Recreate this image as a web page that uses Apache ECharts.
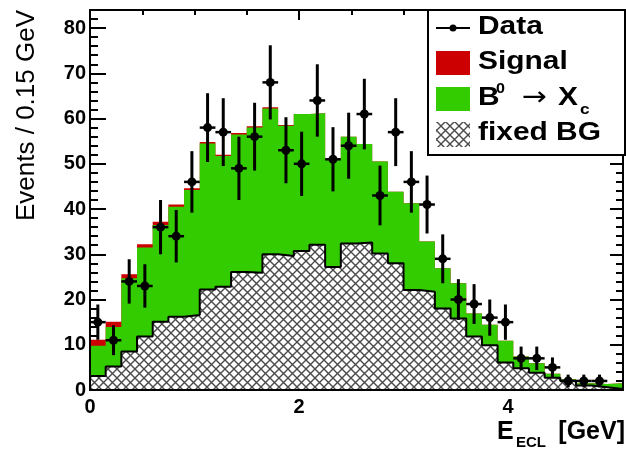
<!DOCTYPE html>
<html>
<head>
<meta charset="utf-8">
<script src="https://cdn.jsdelivr.net/npm/echarts@6/dist/echarts.min.js"></script>
<style>
  html, body { margin: 0; padding: 0; background: #fff; }
  #chart { width: 626px; height: 452px; }
</style>
</head>
<body>
<div id="chart"></div>
<script>
// ---- Data ----
const binWidth = 0.15; // GeV
const bgValues = [3.1, 5.2, 8.5, 11.8, 15.1, 16.2, 16.6, 22.2, 22.8, 26.1, 25.9, 30.0, 29.6, 30.7, 32.1, 27.2, 32.4, 32.6, 30.2, 28.0, 22.1, 21.7, 18.0, 15.8, 11.8, 9.9, 6.1, 4.8, 3.8, 2.7, 2.0, 1.0, 0.6, 0.2];
const xcValues = [6.7, 8.7, 16.2, 19.7, 21.4, 24.3, 27.6, 32.3, 28.9, 30.4, 32.1, 32.2, 28.8, 30.3, 29.1, 23.8, 23.6, 21.8, 20.3, 15.8, 19.2, 11.1, 8.9, 7.8, 5.1, 4.5, 4.8, 2.6, 2.1, 0.9, 0.4, 0.5, 0.7, 1.3];
const sigValues = [1.3, 1.2, 0.9, 0.7, 0.7, 0.5, 0.4, 0.3, 0.3, 0.3, 0.3, 0.3, 0.2, 0, 0, 0, 0, 0, 0, 0, 0, 0, 0, 0, 0, 0, 0, 0, 0, 0, 0, 0, 0, 0];
const dataValues = [15, 11, 24, 23, 36, 34, 46, 58, 57, 49, 56, 68, 53, 50, 64, 51, 54, 61, 43, 57, 46, 41, 29, 20, 19, 16, 15, 7, 7, 5, 2, 2, 2];
const dataErrors = [3.9, 3.3, 4.9, 4.8, 6.0, 5.8, 6.8, 7.6, 7.5, 7.0, 7.5, 8.2, 7.3, 7.1, 8.0, 7.1, 7.3, 7.8, 6.6, 7.5, 6.8, 6.4, 5.4, 4.5, 4.4, 4.0, 3.9, 2.6, 2.6, 2.2, 1.4, 1.4, 1.4];
const xLabeled = [0, 2, 4];
const yLabelStep = 10;

// ---- Derived ----
const nBins = bgValues.length;
const xMax = nBins * binWidth;
const bgTop = bgValues.slice();
const xcTop = bgValues.map((v, i) => v + xcValues[i]);
const sigTop = xcTop.map((v, i) => v + sigValues[i]);
function stepData(arr) {
  const out = arr.map((v, i) => [i * binWidth, v]);
  out.push([arr.length * binWidth, arr[arr.length - 1]]);
  return out;
}
const points = dataValues.map((v, i) => [(i + 0.5) * binWidth, v, dataErrors[i]]);

// hatch pattern
function makeHatch() {
  const s = 9;
  const c = document.createElement('canvas');
  c.width = s; c.height = s;
  const g = c.getContext('2d');
  g.fillStyle = '#ffffff';
  g.fillRect(0, 0, s, s);
  g.strokeStyle = '#4a4a4a';
  g.lineWidth = 1.4;
  g.beginPath();
  g.moveTo(-1, -1); g.lineTo(s + 1, s + 1);
  g.moveTo(s + 1, -1); g.lineTo(-1, s + 1);
  g.stroke();
  return c;
}
const hatch = makeHatch();

const FONT = '"Liberation Sans", Arial, Helvetica, sans-serif';

function xAxisDef(pos, interval, len, showLabel) {
  return {
    type: 'value', position: pos, min: 0, max: xMax, interval: interval,
    axisLine: { show: false, onZero: false },
    axisTick: { show: true, inside: true, length: len, lineStyle: { color: '#000', width: 2 } },
    splitLine: { show: false },
    axisLabel: {
      show: showLabel, margin: 7, color: '#000', fontFamily: FONT, fontWeight: 'bold', fontSize: 20,
      formatter: v => (xLabeled.indexOf(Math.round(v * 1000) / 1000) >= 0 ? String(v) : '')
    }
  };
}
function yAxisDef(pos, interval, len, showLabel) {
  return {
    type: 'value', position: pos, min: 0, max: 84, interval: interval,
    axisLine: { show: false, onZero: false },
    axisTick: { show: true, inside: true, length: len, lineStyle: { color: '#000', width: 2 } },
    splitLine: { show: false },
    axisLabel: {
      show: showLabel, margin: 4, color: '#000', fontFamily: FONT, fontWeight: 'bold', fontSize: 20,
      formatter: v => (v % yLabelStep === 0 ? String(v) : '')
    }
  };
}

const chart = echarts.init(document.getElementById('chart'), null, { renderer: 'canvas' });
const legX = 428, legY = 10, legW = 197, legH = 145;
const SX = 1.15;
const option = {
  animation: false,
  backgroundColor: '#ffffff',
  grid: { left: 90, right: 1, top: 10, bottom: 62, show: true, borderColor: '#000', borderWidth: 2, backgroundColor: 'transparent', z: 10 },
  xAxis: [
    xAxisDef('bottom', 2, 12, true),
    xAxisDef('bottom', 0.5, 6, false),
    xAxisDef('top', 2, 10, false),
    xAxisDef('top', 0.5, 5, false)
  ],
  yAxis: [
    yAxisDef('left', 10, 16, true),
    yAxisDef('left', 2, 8, false),
    yAxisDef('right', 10, 13, false),
    yAxisDef('right', 2, 7, false)
  ],
  series: [
    {
      name: 'Signal', type: 'line', step: 'end', xAxisIndex: 0, yAxisIndex: 0,
      data: stepData(sigTop), showSymbol: false, symbol: 'none',
      lineStyle: { color: '#cc0000', width: 0 },
      areaStyle: { color: '#cc0000', opacity: 1 }, z: 2
    },
    {
      name: 'Xc', type: 'line', step: 'end', xAxisIndex: 0, yAxisIndex: 0,
      data: stepData(xcTop), showSymbol: false, symbol: 'none',
      lineStyle: { color: '#33cc00', width: 0 },
      areaStyle: { color: '#33cc00', opacity: 1 }, z: 3
    },
    {
      name: 'fixed BG', type: 'line', step: 'end', xAxisIndex: 0, yAxisIndex: 0,
      data: stepData(bgTop), showSymbol: false, symbol: 'none',
      lineStyle: { color: '#000', width: 2 },
      areaStyle: { color: { image: hatch, repeat: 'repeat' }, opacity: 1 }, z: 4
    },
    {
      name: 'Data', type: 'custom', xAxisIndex: 0, yAxisIndex: 0, z: 6,
      data: points,
      renderItem: function (params, api) {
        const x = api.value(0), y = api.value(1), e = api.value(2);
        const c = api.coord([x, y]);
        const t = api.coord([x, y + e]);
        const b = api.coord([x, Math.max(0, y - e)]);
        const l = api.coord([x - binWidth / 2, y]);
        const r = api.coord([x + binWidth / 2, y]);
        return {
          type: 'group',
          children: [
            { type: 'line', shape: { x1: c[0], y1: t[1], x2: c[0], y2: b[1] }, style: { stroke: '#000', lineWidth: 3 } },
            { type: 'line', shape: { x1: l[0], y1: c[1], x2: r[0], y2: c[1] }, style: { stroke: '#000', lineWidth: 2.5 } },
            { type: 'circle', shape: { cx: c[0], cy: c[1], r: 4.5 }, style: { fill: '#000' } }
          ]
        };
      }
    }
  ],
  graphic: [
    // y axis title
    { type: 'text', x: 27, y: 10, rotation: Math.PI / 2, z: 20,
      style: { text: 'Events / 0.15 GeV', font: '26px ' + FONT, fill: '#000', textAlign: 'right', textVerticalAlign: 'middle' } },
    // x axis title
    { type: 'text', x: 497, y: 432, z: 20,
      style: { text: 'E', font: 'bold 25px ' + FONT, fill: '#000', textAlign: 'left', textVerticalAlign: 'middle' } },
    { type: 'text', x: 516, y: 443, z: 20,
      style: { text: 'ECL', font: 'bold 15px ' + FONT, fill: '#000', textAlign: 'left', textVerticalAlign: 'middle' } },
    { type: 'text', x: 625, y: 432, z: 20,
      style: { text: '[GeV]', font: 'bold 25px ' + FONT, fill: '#000', textAlign: 'right', textVerticalAlign: 'middle' } },
    // legend box
    { type: 'rect', z: 30, shape: { x: legX, y: legY, width: legW, height: legH },
      style: { fill: '#fff', stroke: '#000', lineWidth: 2 } },
    { type: 'line', z: 31, shape: { x1: 436, y1: 28, x2: 470, y2: 28 }, style: { stroke: '#000', lineWidth: 2 } },
    { type: 'circle', z: 31, shape: { cx: 453, cy: 28, r: 3.5 }, style: { fill: '#000' } },
    { type: 'rect', z: 31, shape: { x: 436, y: 51, width: 34, height: 24 }, style: { fill: '#cc0000' } },
    { type: 'rect', z: 31, shape: { x: 436, y: 87, width: 34, height: 24 }, style: { fill: '#33cc00' } },
    { type: 'rect', z: 31, shape: { x: 436, y: 122, width: 34, height: 25 }, style: { fill: { image: hatch, repeat: 'repeat' } } },
    { type: 'text', z: 32, x: 478, y: 27, scaleX: SX, style: { text: 'Data', font: 'bold 26px ' + FONT, fill: '#000', textVerticalAlign: 'middle' } },
    { type: 'text', z: 32, x: 478, y: 62, scaleX: SX, style: { text: 'Signal', font: 'bold 26px ' + FONT, fill: '#000', textVerticalAlign: 'middle' } },
    { type: 'text', z: 32, x: 478, y: 98, scaleX: SX, style: { text: 'B', font: 'bold 26px ' + FONT, fill: '#000', textVerticalAlign: 'middle' } },
    { type: 'text', z: 32, x: 496, y: 89, scaleX: SX, style: { text: '0', font: 'bold 14px ' + FONT, fill: '#000', textVerticalAlign: 'middle' } },
    { type: 'text', z: 32, x: 522, y: 98, scaleX: SX, style: { text: '\u2192', font: '26px "DejaVu Sans", ' + FONT, fill: '#000', textVerticalAlign: 'middle' } },
    { type: 'text', z: 32, x: 558, y: 98, scaleX: SX, style: { text: 'X', font: 'bold 26px ' + FONT, fill: '#000', textVerticalAlign: 'middle' } },
    { type: 'text', z: 32, x: 580, y: 110, scaleX: SX, style: { text: 'c', font: 'bold 15px ' + FONT, fill: '#000', textVerticalAlign: 'middle' } },
    { type: 'text', z: 32, x: 478, y: 133, scaleX: SX, style: { text: 'fixed BG', font: 'bold 26px ' + FONT, fill: '#000', textVerticalAlign: 'middle' } }
  ]
};
chart.setOption(option);
</script>
</body>
</html>
